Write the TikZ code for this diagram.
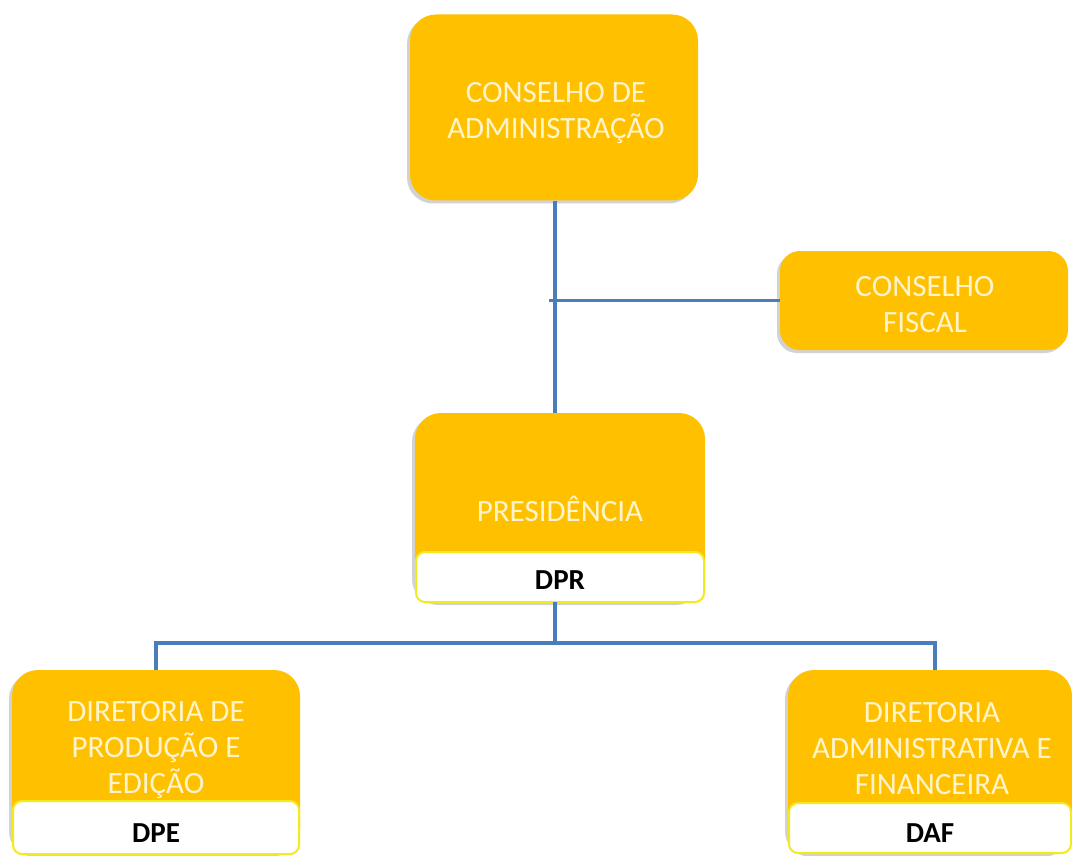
\documentclass[tikz,border=0pt]{standalone}
\usepackage{fontspec}
\setmainfont{Carlito}
\usetikzlibrary{shadows}
\definecolor{boxyellow}{HTML}{FFC000}
\definecolor{txtcream}{HTML}{FFF4CC}
\definecolor{lineblue}{HTML}{4A7EBB}
\definecolor{bandedge}{HTML}{F2EA1C}
\tikzset{
  ybox/.style={draw=none, fill=boxyellow, rounded corners=26pt, inner sep=0pt,
    drop shadow={shadow xshift=-3pt, shadow yshift=-3pt, opacity=0.25, fill=black!70}},
  band/.style={draw=bandedge, line width=2pt, fill=white, rounded corners=9pt, inner sep=0pt},
  wtext/.style={text=txtcream, font=\fontsize{31}{36}\selectfont, align=center, inner sep=0pt},
  btext/.style={text=black, font=\fontsize{29}{34}\selectfont\bfseries, inner sep=0pt},
  conn/.style={draw=lineblue, line width=3.2pt}
}
\begin{document}
\begin{tikzpicture}[x=1pt,y=1pt]
\useasboundingbox (0,0) rectangle (1072,-856);
% boxes
\node[ybox, minimum width=288pt, minimum height=186pt] (ca) at (554,-107.5) {};
\node[ybox, rounded corners=20pt, minimum width=288pt, minimum height=99pt] (cf) at (924,-300.5) {};
\node[ybox, minimum width=290pt, minimum height=189pt] (pr) at (560,-507.5) {};
\node[ybox, minimum width=288pt, minimum height=184pt] (dpe) at (156,-762) {};
\node[ybox, minimum width=284pt, minimum height=184pt] (daf) at (930,-762) {};
% bands
\node[band, minimum width=288pt, minimum height=50pt] (prb) at (560,-577) {};
\node[band, minimum width=286pt, minimum height=53pt] (dpeb) at (156,-827.5) {};
\node[band, minimum width=282pt, minimum height=50pt] (dafb) at (930,-828) {};
% texts
\node[wtext] (cat) at (556,-113) {CONSELHO DE\\ADMINISTRAÇÃO};
\node[wtext] (cft) at (925,-305) {CONSELHO\\FISCAL};
\node[wtext] (prt) at (560,-509) {PRESIDÊNCIA};
\node[wtext] (dpet) at (156,-750) {DIRETORIA DE\\PRODUÇÃO E\\EDIÇÃO};
\node[wtext] (daft) at (932,-749) {DIRETORIA\\ADMINISTRATIVA E\\FINANCEIRA};
\node[btext] (prl) at (560,-580) {DPR};
\node[btext] (dpel) at (156,-833) {DPE};
\node[btext] (dafl) at (930,-833) {DAF};
% connectors
\coordinate (j) at (555,-643);
\coordinate (cfj) at (549,-300.5);
\draw[conn] ([xshift=1pt]ca.south) -- ([xshift=1pt]ca.south |- pr.north);
\draw[conn] (cfj) -- (cf.west);
\draw[conn] (j |- pr.south) -- (j);
\draw[conn] (dpe.north) |- (j) -| ([xshift=5pt]daf.north);
\end{tikzpicture}
\end{document}
